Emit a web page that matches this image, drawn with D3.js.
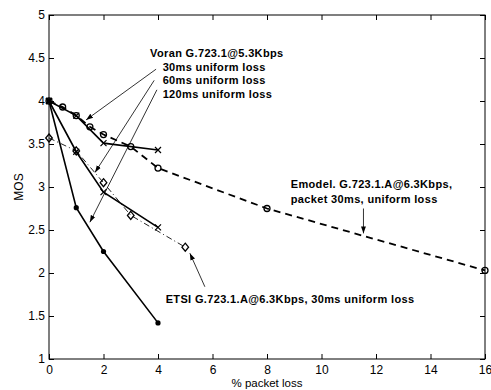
<!DOCTYPE html>
<html>
<head>
<meta charset="utf-8">
<script src="https://cdn.jsdelivr.net/npm/d3@7"></script>
<style>
  body { margin: 0; background: #fff; }
  text { font-family: "Liberation Sans", Arial, Helvetica, sans-serif; }
  .note { font-weight: bold; font-size: 11px; letter-spacing: 0.35px; }
</style>
</head>
<body>
<svg id="chart" width="491" height="390"></svg>
<script>
// % packet loss vs MOS
var xTicks = [0, 2, 4, 6, 8, 10, 12, 14, 16];
var yTicks = [1, 1.5, 2, 2.5, 3, 3.5, 4, 4.5, 5];

var emodelLoss = [0, 0.5, 1, 1.5, 2, 3, 4, 8, 16];
var emodelMos  = [4.0, 3.93, 3.83, 3.70, 3.61, 3.47, 3.22, 2.75, 2.03];

var voranLoss = [0, 1, 2, 4];
var voran30Mos  = [4.0, 3.83, 3.51, 3.43];
var voran60Mos  = [4.0, 3.41, 2.94, 2.53];
var voran120Mos = [4.0, 2.76, 2.25, 1.42];

var etsiLoss = [0, 1, 2, 3, 5];
var etsiMos  = [3.57, 3.42, 3.05, 2.67, 2.30];

// annotation texts: [text, x, y] in data units (left, baseline)
var notes = [
    ["Voran G.723.1@5.3Kbps", 3.71, 4.51],
    ["30ms uniform loss", 4.17, 4.352],
    ["60ms uniform loss", 4.17, 4.198],
    ["120ms uniform loss", 4.17, 4.031],
    ["Emodel. G.723.1.A@6.3Kbps,", 8.87, 2.99],
    ["packet 30ms, uniform loss", 8.87, 2.81],
    ["ETSI G.723.1.A@6.3Kbps, 30ms uniform loss", 4.28, 1.648]
];
// arrows: [x1, y1, x2, y2] in data units
var arrows = [
    [3.93, 4.37, 1.36, 3.78],
    [3.86, 4.24, 1.69, 3.17],
    [3.96, 4.13, 1.50, 2.59],
    [5.72, 1.84, 5.17, 2.23],
    [11.54, 2.75, 11.54, 2.46]
];

var svg = d3.select("#chart"),
    margin = { top: 15, right: 6, bottom: 31, left: 49 },
    width = +svg.attr("width") - margin.left - margin.right,
    height = +svg.attr("height") - margin.top - margin.bottom;

svg.append("rect").attr("width", 491).attr("height", 390).attr("fill", "#fff");

svg.append("defs").append("marker")
    .attr("id", "head")
    .attr("viewBox", "0 0 10 10")
    .attr("refX", 10).attr("refY", 5)
    .attr("markerWidth", 7).attr("markerHeight", 7)
    .attr("markerUnits", "userSpaceOnUse")
    .attr("orient", "auto")
    .append("path").attr("d", "M0,1.5 L10,5 L0,8.5 Z").attr("fill", "#000");

var g = svg.append("g").attr("transform", "translate(" + margin.left + "," + margin.top + ")");

var x = d3.scaleLinear().domain([0, 16]).range([0, width]);
var y = d3.scaleLinear().domain([1, 5]).range([height, 0]);

// axes, ticks pointing inward
g.append("g").attr("transform", "translate(0," + height + ")")
    .call(d3.axisBottom(x).tickValues(xTicks).tickSizeInner(-5).tickSizeOuter(0).tickPadding(6).tickFormat(d3.format("d")));
g.append("g")
    .call(d3.axisLeft(y).tickValues(yTicks).tickSizeInner(-5).tickSizeOuter(0).tickPadding(4).tickFormat(function (v) { return String(v); }));
g.append("g")
    .call(d3.axisTop(x).tickValues(xTicks).tickSizeInner(-5).tickSizeOuter(0).tickFormat(""));
g.append("g").attr("transform", "translate(" + width + ",0)")
    .call(d3.axisRight(y).tickValues(yTicks).tickSizeInner(-5).tickSizeOuter(0).tickFormat(""));

g.selectAll(".domain").remove();
g.selectAll(".tick text").attr("font-size", 12).attr("font-family", "Liberation Sans, Arial, sans-serif").attr("fill", "#000");
g.selectAll(".tick line").attr("stroke", "#000");

g.append("rect").attr("width", width).attr("height", height)
    .attr("fill", "none").attr("stroke", "#000").attr("stroke-width", 1);

function pts(xs, ys) { return xs.map(function (v, i) { return [v, ys[i]]; }); }
var line = d3.line().x(function (d) { return x(d[0]); }).y(function (d) { return y(d[1]); });

// series lines
g.append("path").datum(pts(etsiLoss, etsiMos)).attr("d", line)
    .attr("fill", "none").attr("stroke", "#222").attr("stroke-width", 1).attr("stroke-dasharray", "6,3,1,3");
g.append("path").datum(pts(emodelLoss, emodelMos)).attr("d", line)
    .attr("fill", "none").attr("stroke", "#000").attr("stroke-width", 1.8).attr("stroke-dasharray", "7,5");
[voran30Mos, voran60Mos, voran120Mos].forEach(function (ys) {
    g.append("path").datum(pts(voranLoss, ys)).attr("d", line)
        .attr("fill", "none").attr("stroke", "#000").attr("stroke-width", 1.6);
});

// markers
g.selectAll(".circ").data(pts(emodelLoss, emodelMos)).enter().append("circle")
    .attr("cx", function (d) { return x(d[0]); }).attr("cy", function (d) { return y(d[1]); })
    .attr("r", 3).attr("fill", "none").attr("stroke", "#000").attr("stroke-width", 1.3);

g.selectAll(".diam").data(pts(etsiLoss, etsiMos)).enter().append("path")
    .attr("transform", function (d) { return "translate(" + x(d[0]) + "," + y(d[1]) + ")"; })
    .attr("d", "M0,-4 L3.3,0 L0,4 L-3.3,0 Z")
    .attr("fill", "none").attr("stroke", "#000").attr("stroke-width", 1.3);

[voran30Mos, voran60Mos].forEach(function (ys) {
    g.selectAll(null).data(pts(voranLoss, ys)).enter().append("path")
        .attr("transform", function (d) { return "translate(" + x(d[0]) + "," + y(d[1]) + ")"; })
        .attr("d", "M-3,-3 L3,3 M-3,3 L3,-3")
        .attr("stroke", "#000").attr("stroke-width", 1.2);
});

g.selectAll(".dot").data(pts(voranLoss, voran120Mos)).enter().append("circle")
    .attr("cx", function (d) { return x(d[0]); }).attr("cy", function (d) { return y(d[1]); })
    .attr("r", 2.6).attr("fill", "#000");

// annotations
g.selectAll(".arrow").data(arrows).enter().append("line")
    .attr("x1", function (d) { return x(d[0]); }).attr("y1", function (d) { return y(d[1]); })
    .attr("x2", function (d) { return x(d[2]); }).attr("y2", function (d) { return y(d[3]); })
    .attr("stroke", "#000").attr("stroke-width", 0.8).attr("marker-end", "url(#head)");

g.selectAll(".note").data(notes).enter().append("text")
    .attr("class", "note")
    .attr("x", function (d) { return x(d[1]); }).attr("y", function (d) { return y(d[2]); })
    .text(function (d) { return d[0]; });

// axis labels
svg.append("text").attr("x", margin.left + width / 2).attr("y", 387)
    .attr("text-anchor", "middle").attr("font-size", 11.5).text("% packet loss");
svg.append("text").attr("transform", "translate(23," + (margin.top + height / 2) + ") rotate(-90)")
    .attr("text-anchor", "middle").attr("font-size", 12).text("MOS");
</script>
</body>
</html>
